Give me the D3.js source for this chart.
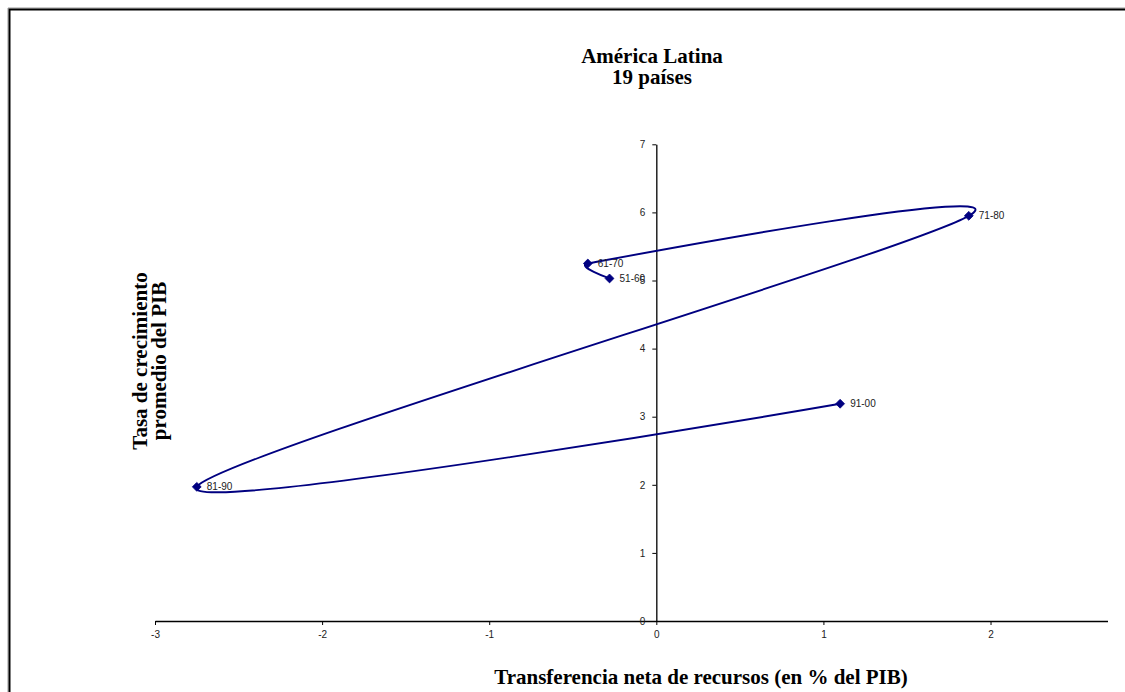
<!DOCTYPE html>
<html>
<head>
<meta charset="utf-8">
<script src="https://cdn.jsdelivr.net/npm/d3@7"></script>
<style>
  html, body { margin: 0; padding: 0; background: #fff; }
  svg { display: block; }
</style>
</head>
<body>
<svg id="chart" width="1125" height="692"></svg>
<script>
// ---- data ----
const periods = ["51-60", "61-70", "71-80", "81-90", "91-00"];
const transfer = [-0.28, -0.41, 1.87, -2.75, 1.10];   // x: net resource transfer (% of GDP)
const growth   = [5.03, 5.25, 5.95, 1.97, 3.19];      // y: average GDP growth rate
const xTicks = [-3, -2, -1, 0, 1, 2];
const yTicks = [0, 1, 2, 3, 4, 5, 6, 7];
const titleLines = ["América Latina", "19 países"];
const xTitle = "Transferencia neta de recursos (en % del PIB)";
const yTitleLines = ["Tasa de crecimiento", "promedio del PIB"];

const svg = d3.select("#chart");
const navy = "#000080";

// frame
svg.append("path").attr("d", "M8,692 V8 H1125").attr("fill", "none").attr("stroke", "#999").attr("stroke-width", 1);
svg.append("path").attr("d", "M9.5,692 V9.5 H1125").attr("fill", "none").attr("stroke", "#000").attr("stroke-width", 2);

// scales
const x = d3.scaleLinear().domain([-3, 2.7]).range([155, 1107.5]);
const y = d3.scaleLinear().domain([0, 7]).range([621, 144.3]);

// x axis (crosses at y=0)
const xAxis = d3.axisBottom(x).tickValues(xTicks).tickSize(4).tickSizeOuter(0).tickPadding(6)
  .tickFormat(d3.format("d"));
const gx = svg.append("g").attr("transform", `translate(0,${y(0)})`).call(xAxis);
gx.select(".domain").attr("stroke", "#000").attr("stroke-width", 1.3);
gx.selectAll(".tick line").attr("stroke", "#000");
gx.selectAll(".tick text").attr("font-family", "Arial, 'Liberation Sans', sans-serif")
  .attr("font-size", "10px").attr("fill", "#222").text(d => d < 0 ? "-" + Math.abs(d) : d);

// y axis (crosses at x=0)
const yAxis = d3.axisLeft(y).tickValues(yTicks).tickSize(4).tickSizeOuter(0).tickPadding(7)
  .tickFormat(d3.format("d"));
const gy = svg.append("g").attr("transform", `translate(${x(0)},0)`).call(yAxis);
gy.select(".domain").attr("stroke", "#000").attr("stroke-width", 1.3);
gy.selectAll(".tick line").attr("stroke", "#000");
gy.selectAll(".tick text").attr("font-family", "Arial, 'Liberation Sans', sans-serif")
  .attr("font-size", "10px").attr("fill", "#222");

// smoothed line (spreadsheet-style Bezier smoothing: tangent = (P[i+1]-P[i-1])/6,
// capped at half of the shorter neighbouring segment)
const pts = periods.map((p, i) => ({ p, x: transfer[i], y: growth[i] }));
function smoothPath(data) {
  const P = data.map(d => [x(d.x), y(d.y)]);
  const n = P.length;
  const tan = P.map((p, i) => {
    if (i === 0 || i === n - 1) return [0, 0];
    const a = P[i - 1], b = P[i + 1];
    const dx = b[0] - a[0], dy = b[1] - a[1];
    const d02 = Math.hypot(dx, dy);
    const d01 = Math.hypot(p[0] - a[0], p[1] - a[1]);
    const d12 = Math.hypot(b[0] - p[0], b[1] - p[1]);
    const m = Math.min(d02 / 6, d01 / 2, d12 / 2);
    return d02 > 0 ? [dx / d02 * m, dy / d02 * m] : [0, 0];
  });
  const path = d3.path();
  path.moveTo(P[0][0], P[0][1]);
  for (let i = 0; i < n - 1; i++) {
    path.bezierCurveTo(
      P[i][0] + tan[i][0], P[i][1] + tan[i][1],
      P[i + 1][0] - tan[i + 1][0], P[i + 1][1] - tan[i + 1][1],
      P[i + 1][0], P[i + 1][1]);
  }
  return path.toString();
}
svg.append("path").datum(pts).attr("d", smoothPath)
  .attr("fill", "none").attr("stroke", navy).attr("stroke-width", 1.9);

// markers
svg.selectAll(".mk").data(pts).enter().append("path")
  .attr("class", "mk")
  .attr("transform", d => `translate(${x(d.x)},${y(d.y)})`)
  .attr("d", d3.symbol().type(d3.symbolDiamond2).size(50))
  .attr("fill", navy).attr("stroke", navy).attr("stroke-width", 0.8);

// data labels
svg.selectAll(".lbl").data(pts).enter().append("text")
  .attr("class", "lbl")
  .attr("x", d => x(d.x) + 10)
  .attr("y", d => y(d.y) + 3.5)
  .attr("font-family", "Arial, 'Liberation Sans', sans-serif")
  .attr("font-size", "10px").attr("fill", "#222")
  .text(d => d.p);

// titles
const serif = "'Times New Roman', 'Liberation Serif', serif";
svg.append("text").attr("x", 652).attr("y", 63).attr("text-anchor", "middle")
  .attr("font-family", serif).attr("font-weight", "bold").attr("font-size", "21px")
  .selectAll("tspan").data(titleLines).enter().append("tspan")
  .attr("x", 652).attr("dy", (d, i) => i === 0 ? 0 : 21).text(d => d);

svg.append("text").attr("x", 701).attr("y", 684).attr("text-anchor", "middle")
  .attr("font-family", serif).attr("font-weight", "bold").attr("font-size", "21px")
  .text(xTitle);

svg.append("text").attr("transform", "translate(147,361) rotate(-90)")
  .attr("text-anchor", "middle")
  .attr("font-family", serif).attr("font-weight", "bold").attr("font-size", "21px")
  .selectAll("tspan").data(yTitleLines).enter().append("tspan")
  .attr("x", 0).attr("dy", (d, i) => i === 0 ? 0 : 18.5).text(d => d);
</script>
</body>
</html>
